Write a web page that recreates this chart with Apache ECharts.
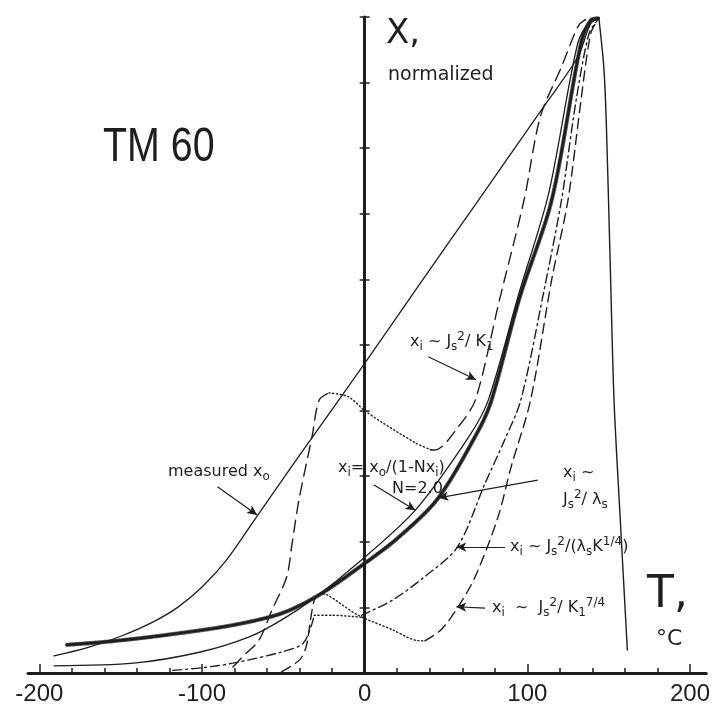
<!DOCTYPE html>
<html><head><meta charset="utf-8">
<script src="https://cdn.jsdelivr.net/npm/echarts@6/dist/echarts.min.js"></script>
<style>html,body{margin:0;padding:0;background:#fff}#c{width:713px;height:708px}</style>
</head><body><div id="c"></div>
<script>
// ---- axis ticks / labels ----
const xTickValues = [-200,-180,-160,-140,-120,-100,-80,-60,-40,-20,0,20,40,60,80,100,120,140,160,180,200];
const xMajorTicks = [-200,-100,100,200];
const xLabelValues = [-200,-100,0,100,200];

// ---- curves: [T (°C), chi normalized] ----
const measuredXo = [[-191,0.026],[-170,0.039],[-150,0.056],[-130,0.078],[-115,0.100],[-100,0.131],[-85,0.172],[-67,0.236],[-40,0.332],[0,0.472],[35,0.597],[70,0.721],[110,0.863],[131,0.939],[139,0.99],[144,0.998]];
const dropCurve = [[144,0.998],[147,0.924],[148.5,0.843],[151,0.62],[153.3,0.416],[157,0.24],[161.5,0.035]];
const chiN20 = [[-191,0.011],[-142,0.015],[-101,0.032],[-71,0.055],[-51,0.081],[-30,0.116],[-4,0.168],[31,0.248],[64,0.360],[76,0.416],[95,0.58],[113,0.73],[131,0.96],[139,0.995],[144,0.998]];
const chiJsLs = [[-183,0.043],[-157,0.048],[-122,0.058],[-81,0.073],[-51,0.091],[-28,0.119],[-4,0.160],[20,0.205],[45,0.266],[70,0.370],[78,0.416],[95,0.57],[115,0.721],[133,0.96],[139,0.995],[144,0.998]];
const chiJsK1_a = [[-81,0.009],[-75,0.025],[-65,0.050],[-57,0.096],[-48,0.146],[-44.6,0.198],[-40.4,0.264],[-32.4,0.360],[-28,0.416],[-22,0.427]];
const chiJsK1_dot = [[-22,0.427],[-10,0.421],[1,0.398],[31,0.351],[41,0.340]];
const chiJsK1_b = [[41,0.340],[45,0.341],[57.5,0.375],[68,0.416],[83,0.57],[98,0.721],[108,0.848],[121,0.924],[131,0.985],[135,0.995],[140,0.997],[144,0.998]];
const chiLsK_a = [[-118,0.004],[-100,0.008],[-81,0.015],[-51,0.032],[-38,0.045],[-33,0.071],[-31,0.088]];
const chiLsK_dot = [[-31,0.088],[-20,0.088],[-2,0.085]];
const chiLsK_b = [[-2,0.088],[17,0.111],[37,0.147],[57,0.192],[74,0.289],[86,0.355],[96,0.416],[110,0.58],[121,0.721],[130,0.873],[138,0.975],[144,0.998]];
const chiK74_a = [[-51,0.002],[-40,0.020],[-36,0.040],[-33,0.086],[-31,0.111],[-28,0.121]];
const chiK74_dot = [[-28,0.121],[-23,0.119],[-4,0.088],[17,0.066],[31,0.050],[37,0.049]];
const chiK74_b = [[37,0.049],[47,0.066],[57.5,0.101],[68,0.147],[82,0.238],[90,0.314],[102,0.416],[115,0.6],[125,0.721],[133,0.873],[139,0.975],[144,0.998]];

// arrows: [from, to] in data coords
const arrows = [
  [[-90.5,0.284],[-66.1,0.241]],
  [[5.5,0.287],[31.2,0.248]],
  [[106.4,0.294],[45.3,0.267]],
  [[86.2,0.192],[56.3,0.192]],
  [[74,0.099],[56.3,0.101]],
  [[39.1,0.482],[68.5,0.447]]
];

const INK = '#1e1e1e';
const FONT = "'DejaVu Sans', sans-serif";
const chart = echarts.init(document.getElementById('c'), null, {renderer:'canvas'});

function line(data, type, width, z, op){
  return {type:'line', data, symbol:'none', smooth:0.3, silent:true,
    lineStyle:{color:INK, width:width, type:type, cap:'round', opacity:op==null?1:op}, z:z||2};
}
const LONG=[12,7], DASH=[10,6], DOT=[1.2,2.6], DASHDOT=[9,4,2,4];

const series = [
  Object.assign(line(measuredXo,'solid',1.3),{markLine:{silent:true,symbol:['none','arrow'],symbolSize:[7,10],
    label:{show:false},lineStyle:{color:INK,width:1.2,type:'solid'},
    data: arrows.map(a=>[{coord:a[0]},{coord:a[1]}])}}),
  line(dropCurve,'solid',1.4),
  line(chiN20,'solid',1.3),
  line(chiJsLs,'solid',2.4,3),
  line(chiJsLs,[1,1.5],4.2,3,0.75),
  line(chiJsK1_a,LONG,1.4),
  line(chiJsK1_dot,DOT,1.4),
  line(chiJsK1_b,LONG,1.4),
  line(chiLsK_a,DASHDOT,1.4),
  line(chiLsK_dot,DOT,1.4),
  line(chiLsK_b,DASHDOT,1.4),
  line(chiK74_a,DASH,1.4),
  line(chiK74_dot,DOT,1.4),
  line(chiK74_b,DASH,1.4)
];

const rich = {
  n:{fontFamily:FONT,fontSize:16,color:INK,lineHeight:22,verticalAlign:'middle'},
  s:{fontFamily:FONT,fontSize:12,color:INK,lineHeight:10,verticalAlign:'bottom'},
  p:{fontFamily:FONT,fontSize:12,color:INK,lineHeight:8,verticalAlign:'top'}
};
function txt(x,y,text,extra){
  return Object.assign({type:'text', x:x, y:y, silent:true, z:10,
    style:{text:text, rich:rich, fill:INK, font:'16px '+FONT, textVerticalAlign:'middle'}}, extra||{});
}
const graphics = [
  {type:'text',x:103,y:148,scaleX:0.82,silent:true,style:{text:'TM 60',fill:INK,font:"48px 'Liberation Sans', sans-serif",textVerticalAlign:'middle'}},
  {type:'text',x:386,y:34,silent:true,style:{text:'X,',fill:INK,font:"34px "+FONT,textVerticalAlign:'middle'}},
  {type:'text',x:388,y:75,silent:true,style:{text:'normalized',fill:INK,font:"19px "+FONT,textVerticalAlign:'middle'}},
  {type:'text',x:647,y:596,silent:true,style:{text:'T,',fill:INK,font:"44px "+FONT,textVerticalAlign:'middle'}},
  {type:'text',x:656,y:639,silent:true,style:{text:'°C',fill:INK,font:"22px "+FONT,textVerticalAlign:'middle'}},
  txt(168,472,'{n|measured x}{s|o}'),
  txt(338,468,'{n|x}{s|i}{n|= x}{s|o}{n|/(1-Nx}{s|i}{n|)}'),
  txt(392,489,'{n|N=2.0}'),
  txt(563,473,'{n|x}{s|i}{n| ~}'),
  txt(563,500,'{n|J}{s|s}{p|2}{n|/ λ}{s|s}'),
  txt(510,547,'{n|x}{s|i}{n| ~ J}{s|s}{p|2}{n|/(λ}{s|s}{n|K}{p|1/4}{n|)}'),
  txt(492,608,'{n|x}{s|i}{n|  ~  J}{s|s}{p|2}{n|/ K}{s|1}{p|7/4}'),
  txt(410,342,'{n|x}{s|i}{n| ~ J}{s|s}{p|2}{n|/ K}{s|1}')
];

chart.setOption({
  animation:false,
  backgroundColor:'#fff',
  grid:{left:28,right:3,top:17,bottom:35},
  xAxis:[{type:'value',min:-207,max:210,position:'bottom',
    axisLine:{onZero:false,lineStyle:{color:INK,width:3}},
    axisTick:{show:true,inside:true,length:5,customValues:xTickValues,lineStyle:{color:INK,width:1.5}},
    axisLabel:{show:true,customValues:xLabelValues,margin:9,color:INK,fontSize:24,
      fontFamily:"'Liberation Sans',sans-serif"},
    splitLine:{show:false}},
   {type:'value',min:-207,max:210,position:'bottom',
    axisLine:{show:false,onZero:false},
    axisTick:{show:true,inside:true,length:9,customValues:xMajorTicks,lineStyle:{color:INK,width:1.5}},
    axisLabel:{show:false},splitLine:{show:false}}],
  yAxis:[{type:'value',min:0,max:1,interval:0.1,position:'left',
    axisLine:{onZero:true,onZeroAxisIndex:0,lineStyle:{color:INK,width:3}},
    axisTick:{show:true,length:5,lineStyle:{color:INK,width:1.5}},
    axisLabel:{show:false},splitLine:{show:false}},
   {type:'value',min:0,max:1,interval:0.1,position:'left',
    axisLine:{show:false,onZero:true,onZeroAxisIndex:0},
    axisTick:{show:true,inside:true,length:5,lineStyle:{color:INK,width:1.5}},
    axisLabel:{show:false},splitLine:{show:false}}],
  series: series,
  graphic: graphics
});
</script></body></html>
